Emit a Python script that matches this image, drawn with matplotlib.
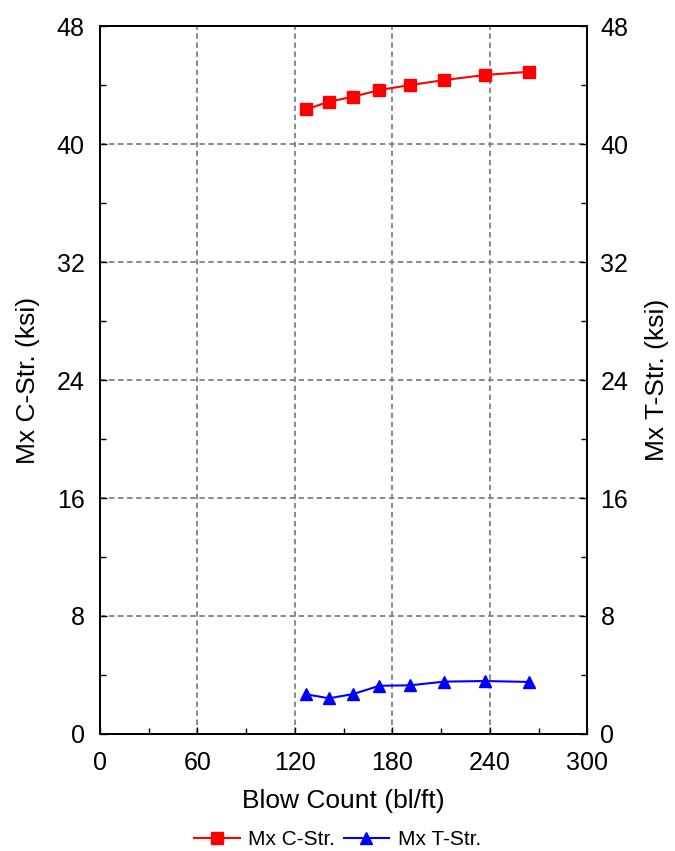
import matplotlib
matplotlib.use("Agg")
import matplotlib.pyplot as plt
from matplotlib.ticker import MultipleLocator

plt.rcParams['font.family'] = ['Liberation Sans', 'DejaVu Sans']

blow_count = [127, 141, 156, 172, 191, 212, 237, 264]
c_str = [42.35, 42.87, 43.21, 43.66, 44.0, 44.34, 44.68, 44.9]
t_str = [2.69, 2.42, 2.71, 3.27, 3.30, 3.55, 3.59, 3.53]

x_ticks = [0, 60, 120, 180, 240, 300]
y_ticks = [0, 8, 16, 24, 32, 40, 48]

fig = plt.figure(figsize=(6.75, 8.51), dpi=100)
ax = fig.add_axes([0.148, 0.1375, 0.722, 0.8319])
ax2 = ax.twinx()

l1, = ax.plot(blow_count, c_str, color='#ff0000', marker='s', markersize=8,
              linewidth=1.5, label='Mx C-Str.', zorder=3)
l2, = ax2.plot(blow_count, t_str, color='#0000ff', marker='^', markersize=9,
               linewidth=1.5, label='Mx T-Str.', zorder=3)

for a in (ax, ax2):
    a.set_xlim(0, 300)
    a.set_ylim(0, 48)
    a.set_yticks(y_ticks)
    a.yaxis.set_minor_locator(MultipleLocator(4))
    a.tick_params(axis='both', which='both', direction='in', labelsize=18)
    a.tick_params(which='major', length=5, width=1)
    a.tick_params(which='minor', length=4, width=1)

ax.set_xticks(x_ticks)
ax.xaxis.set_minor_locator(MultipleLocator(30))
ax.tick_params(axis='x', pad=12.5)
ax.tick_params(axis='y', pad=11)
ax2.tick_params(axis='y', pad=9.5)
ax.grid(True, which='major', linestyle=(0, (3, 2)), color='#808080', linewidth=1.3)

for a in (ax, ax2):
    for s in a.spines.values():
        s.set_linewidth(1.3)

ax.set_xlabel('Blow Count (bl/ft)', fontsize=19, labelpad=10)
ax.set_ylabel('Mx C-Str. (ksi)', fontsize=19, labelpad=12)
ax2.set_ylabel('Mx T-Str. (ksi)', fontsize=19, labelpad=12)

fig.legend(handles=[l1, l2], loc='center', bbox_to_anchor=(0.5, 0.013),
           ncol=2, frameon=False, fontsize=15, handlelength=2.2,
           handletextpad=0.4, columnspacing=0.4)

fig.savefig('out.png', dpi=100)
